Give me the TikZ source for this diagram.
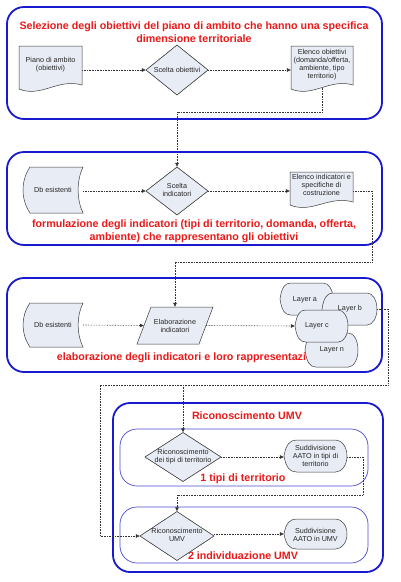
\documentclass[tikz,border=0pt]{standalone}
\usepackage{fontspec}
\setmainfont{Liberation Sans}
\usetikzlibrary{shapes.geometric,arrows.meta,calc}
\definecolor{boxblue}{RGB}{25,25,205}
\definecolor{innerblue}{RGB}{75,75,215}
\definecolor{ttlred}{RGB}{235,25,25}
\definecolor{shpfill}{RGB}{232,236,245}
\definecolor{shpline}{RGB}{60,60,60}
\newcommand\dispshape[4]{%
 \pgfmathsetmacro\dsm{(#3+#4)/2}\pgfmathsetmacro\dsc{0.2*(#2-#1)}\pgfmathsetmacro\dsr{0.18*(#2-#1)}\pgfmathsetmacro\dsh{#4-#3}%
 \path[shp] (#1,\dsm) .. controls ({#1+0.15*\dsc},{\dsm-0.35*\dsh}) and ({#1+0.45*\dsc},#3) .. ({#1+\dsc},#3)
  -- ({#2-\dsr},#3) .. controls ({#2-0.45*\dsr},#3) and (#2,{\dsm-0.28*\dsh}) .. (#2,\dsm)
  .. controls (#2,{\dsm+0.28*\dsh}) and ({#2-0.45*\dsr},#4) .. ({#2-\dsr},#4)
  -- ({#1+\dsc},#4) .. controls ({#1+0.45*\dsc},#4) and ({#1+0.15*\dsc},{\dsm+0.35*\dsh}) .. (#1,\dsm) -- cycle;}
\newcommand\docshape[5]{%
 \path[shp] (#1,#3) -- (#2,#3) -- (#2,#5) .. controls ({#1+0.62*(#2-#1)},{#5-7}) and ({#1+0.35*(#2-#1)},{#4+9}) .. (#1,#4) -- cycle;}
\newcommand\storedshape[4]{%
 \path[shp] ({#1+7},#3) -- (#2,#3) .. controls ({#2-6.5},{#3+0.3*(#4-#3)}) and ({#2-6.5},{#4-0.3*(#4-#3)}) .. (#2,#4)
  -- ({#1+7},#4) .. controls ({#1-2.3},{#4-0.3*(#4-#3)}) and ({#1-2.3},{#3+0.3*(#4-#3)}) .. ({#1+7},#3) -- cycle;}
\begin{document}
\begin{tikzpicture}[x=1pt,y=-1pt,
 bigbox/.style={draw=boxblue,line width=1.8pt,rounded corners=17pt,fill=white},
 inbox/.style={draw=innerblue,line width=0.7pt,rounded corners=17pt},
 ttl/.style={text=ttlred,font=\bfseries\fontsize{10.7}{12.8}\selectfont,align=center,inner sep=0pt},
 lbl/.style={text=black!85,font=\fontsize{7.2}{8}\selectfont,align=center,inner sep=0pt},
 bnd/.style={lbl,draw=none,rectangle},
 shp/.style={fill=shpfill,draw=shpline,line width=0.5pt},
 dia/.style={diamond,shp,inner sep=0pt},
 conn/.style={draw=black!80,line width=0.6pt,densely dotted,-{Triangle[length=4pt,width=3.6pt]}},
 wire/.style={draw=black!80,line width=0.6pt,densely dotted}]
\useasboundingbox[fill=white] (0,0) rectangle (400,582);
% boxes
\draw[bigbox] (7,7) rectangle (382,119);
\draw[bigbox] (7,152) rectangle (382,245);
\draw[bigbox] (7,278) rectangle (382,372);
\draw[bigbox] (113,403) rectangle (383,572);
\draw[inbox] (120,429) rectangle (368,486);
\draw[inbox] (120,507) rectangle (368,563);
% titles
\node[ttl] (t1) at (194,32) {Selezione degli obiettivi del piano di ambito che hanno una specifica\\dimensione territoriale};
\node[ttl] (t2) at (194,231) {formulazione degli indicatori (tipi di territorio, domanda, offerta,\\ambiente) che rappresentano gli obiettivi};
\node[ttl] (t3) at (191,358) {elaborazione degli indicatori e loro rappresentazione};
\node[ttl] (t4) at (247,416) {Riconoscimento UMV};
\node[ttl] (t5) at (243,479) {1 tipi di territorio};
\node[ttl] (t6) at (243,556) {2 individuazione UMV};
% bounding nodes
\node[bnd,minimum width=63pt,minimum height=40pt] (d1) at (50.5,66) {};
\node[dia,minimum width=62pt,minimum height=50pt] (s1) at (177,70) {};
\node[bnd,minimum width=62pt,minimum height=41pt] (d2) at (322,65.5) {};
\node[bnd,minimum width=60pt,minimum height=46pt] (db1) at (53,190) {};
\node[dia,minimum width=62pt,minimum height=48pt] (s2) at (177,191) {};
\node[bnd,minimum width=63pt,minimum height=30pt] (d3) at (321.5,186) {};
\node[bnd,minimum width=60pt,minimum height=44pt] (db2) at (53,325) {};
\node[bnd,minimum width=62pt,minimum height=37pt] (p) at (175,325.5) {};
\node[bnd,minimum width=53pt,minimum height=32pt] (la) at (306.5,299) {};
\node[bnd,minimum width=55pt,minimum height=32pt] (lb) at (349.5,309) {};
\node[bnd,minimum width=53pt,minimum height=32pt] (lc) at (321.5,326) {};
\node[bnd,minimum width=53pt,minimum height=34pt] (ln) at (331.5,350) {};
\node[dia,minimum width=76pt,minimum height=49pt] (u1) at (183,457) {};
\node[bnd,minimum width=63pt,minimum height=32pt] (su1) at (315.5,456.5) {};
\node[dia,minimum width=74pt,minimum height=49pt] (u2) at (177,536) {};
\node[bnd,minimum width=63pt,minimum height=30pt] (su2) at (315.5,534) {};
\coordinate (j1) at (183,385);
% connectors
\draw[conn] (d1.east |- s1.west) -- (s1.west);
\draw[conn] (s1.east) -- (d2.west |- s1.east);
\draw[conn] (d2.south) -- ++(0,26) -| (s2.north);
\draw[conn] (db1.east |- s2.west) -- (s2.west);
\draw[conn] (s2.east) -- (d3.west |- s2.east);
\draw[conn] (d3.east |- s2.east) -- (372,191) -- (372,262) -| (p.north);
\draw[conn] (db2.east) -- (p.west);
\draw[conn] (p.east) -- (lc.west);
\draw[conn] (lb.east) -- (388,309) -- (388,385) -- (100,385) |- (u2.west);
\draw[conn] (j1) -- (u1.north);
\draw[conn] (u1.east) -- (su1.west |- u1.east);
\draw[conn] (su1.east |- u1.east) -- (363,457) -- (363,495) -| (u2.north);
\draw[conn] (u2.east |- su2.west) -- (su2.west);
% shapes
\docshape{19}{82}{46}{89}{85}
\docshape{291}{353}{46}{89}{85}
\docshape{290}{353}{172}{205}{202}
\storedshape{23}{83}{167}{213}
\storedshape{23}{83}{303}{347}
\path[shp] (151,307) -- (213,307) -- (199,344) -- (137,344) -- cycle;
\dispshape{280}{333}{283}{315}
\dispshape{322}{377}{293}{325}
\dispshape{305}{358}{333}{367}
\dispshape{295}{348}{310}{342}
\dispshape{284}{347}{440}{472}
\dispshape{284}{347}{519}{549}
\node[dia,minimum width=62pt,minimum height=50pt] at (177,70) {};
\node[dia,minimum width=62pt,minimum height=48pt] at (177,191) {};
\node[dia,minimum width=76pt,minimum height=49pt] at (183,457) {};
\node[dia,minimum width=74pt,minimum height=49pt] at (177,536) {};
% labels
\node[lbl] (d1t) at (50.5,65) {Piano di ambito\\(obiettivi)};
\node[lbl] (s1t) at (177,70) {Scelta obiettivi};
\node[lbl] (d2t) at (322,65) {Elenco obiettivi\\(domanda/offerta,\\ambiente, tipo\\territorio)};
\node[lbl] (db1t) at (53,190) {Db esistenti};
\node[lbl] (s2t) at (177,190) {Scelta\\indicatori};
\node[lbl] (d3t) at (321.5,185) {Elenco indicatori e\\specifiche di\\costruzione};
\node[lbl] (db2t) at (53,325) {Db esistenti};
\node[lbl] (pt) at (175,326) {Elaborazione\\indicatori};
\node[lbl] (lat) at (305,300) {Layer a};
\node[lbl] (lbt) at (350,309) {Layer b};
\node[lbl] (lct) at (317,326) {Layer c};
\node[lbl] (lnt) at (332,350) {Layer n};
\node[lbl] (u1t) at (183,457) {Riconoscimento\\dei tipi di territorio};
\node[lbl] (su1t) at (315.5,456) {Suddivisione\\AATO in tipi di\\territorio};
\node[lbl] (u2t) at (177,535) {Riconoscimento\\UMV};
\node[lbl] (su2t) at (315.5,535) {Suddivisione\\AATO in UMV};
\end{tikzpicture}
\end{document}
